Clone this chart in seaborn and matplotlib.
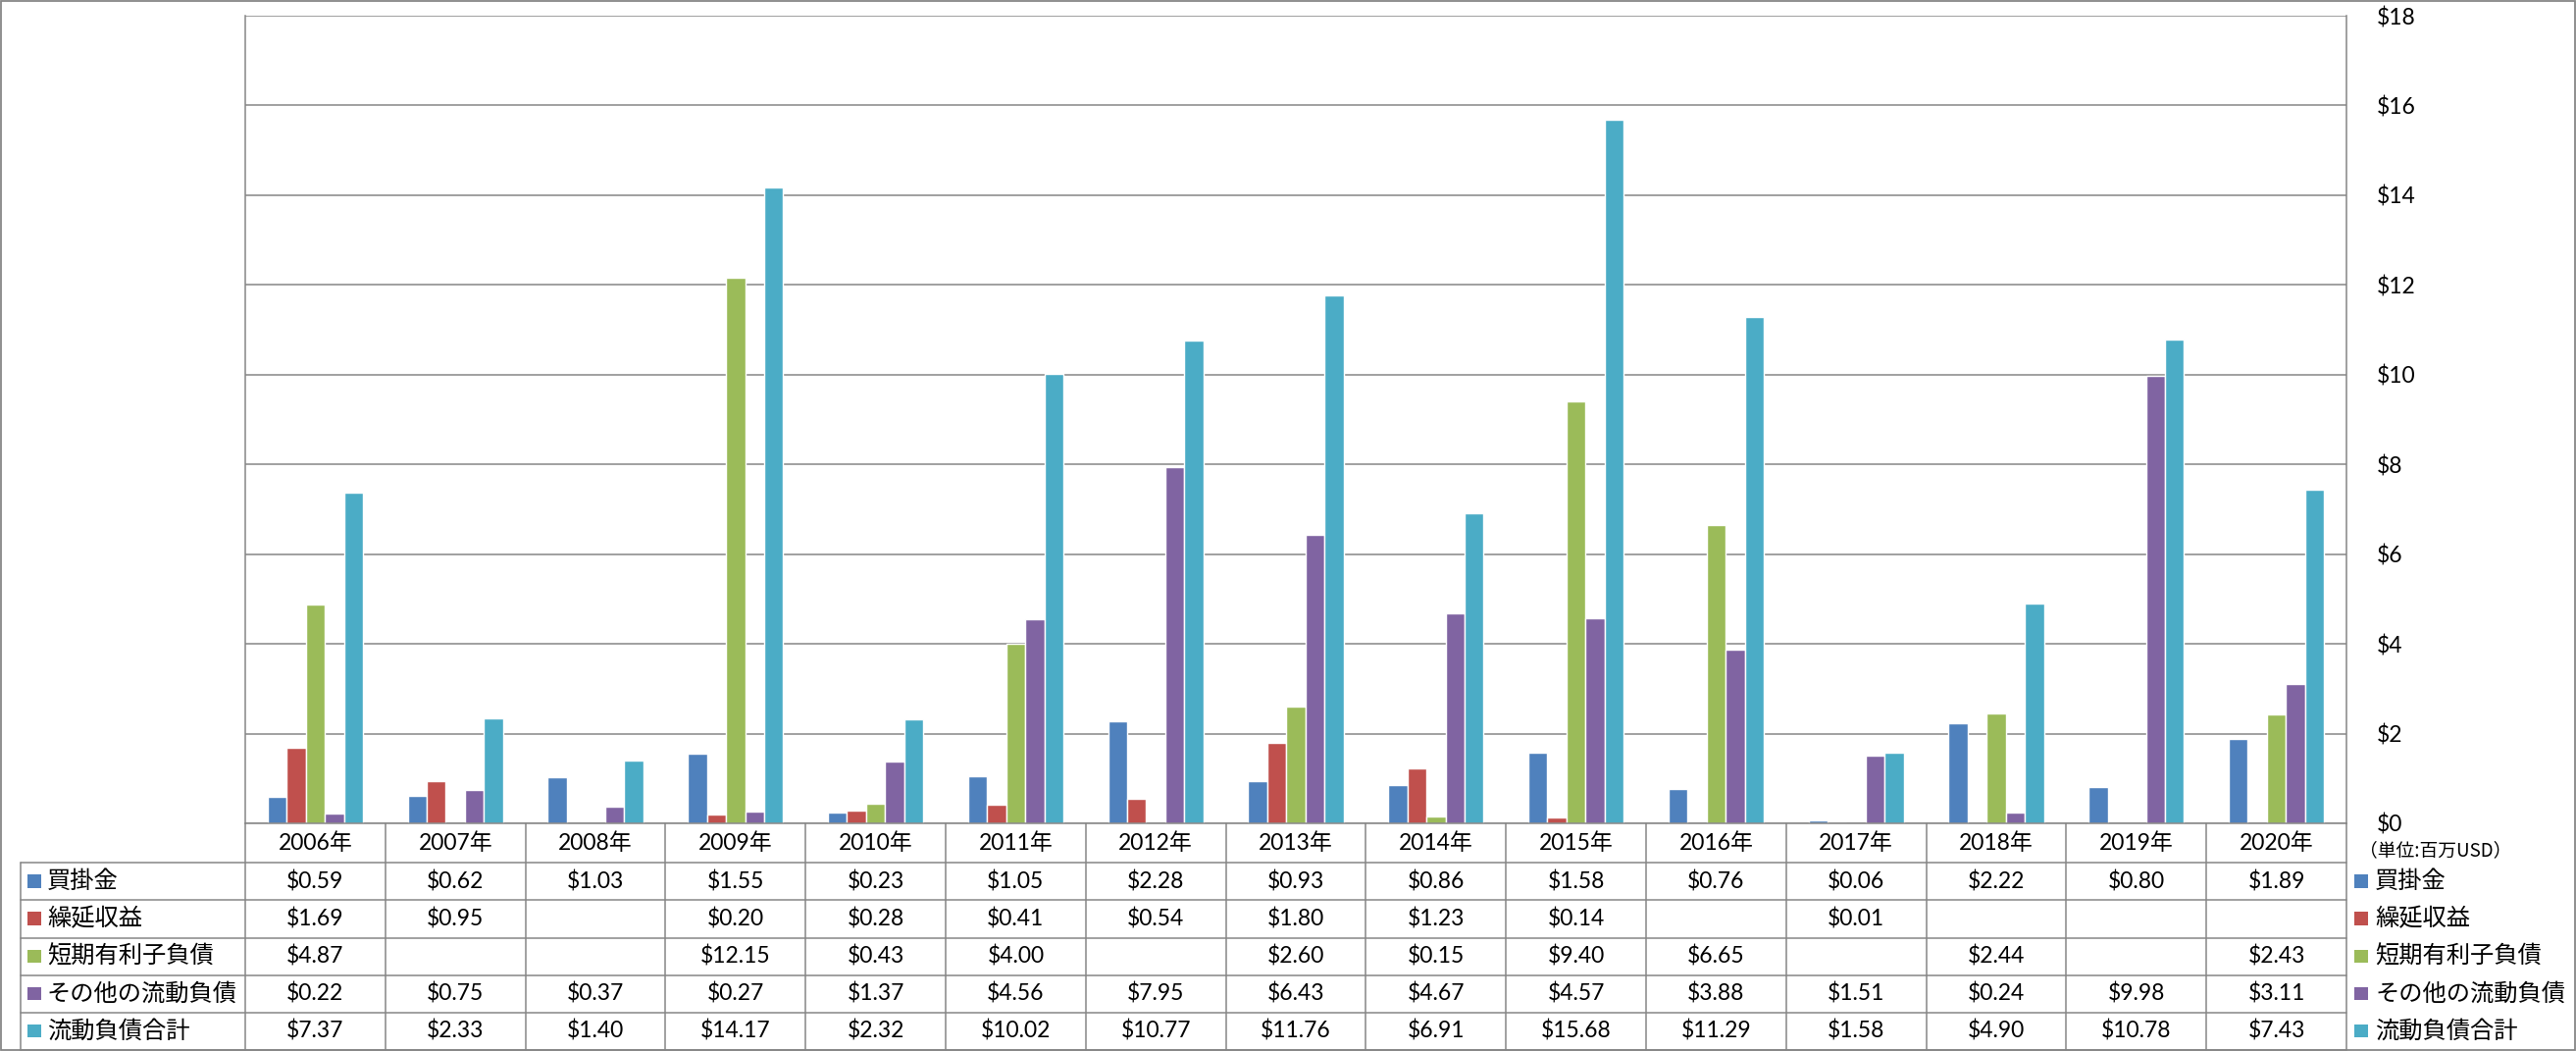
import numpy as np
import pandas as pd
import matplotlib
matplotlib.use("Agg")
import matplotlib.pyplot as plt
import seaborn as sns
from matplotlib.transforms import blended_transform_factory
from matplotlib.lines import Line2D
from matplotlib.patches import Rectangle

# ---------------- data ----------------
years = ["2006年", "2007年", "2008年", "2009年", "2010年", "2011年", "2012年", "2013年",
         "2014年", "2015年", "2016年", "2017年", "2018年", "2019年", "2020年"]
series_names = ["買掛金", "繰延収益", "短期有利子負債", "その他の流動負債", "流動負債合計"]
accounts_payable = [0.59, 0.62, 1.03, 1.55, 0.23, 1.05, 2.28, 0.93, 0.86, 1.58, 0.76, 0.06, 2.22, 0.80, 1.89]
deferred_revenue = [1.69, 0.95, None, 0.20, 0.28, 0.41, 0.54, 1.80, 1.23, 0.14, None, 0.01, None, None, None]
short_term_debt = [4.87, None, None, 12.15, 0.43, 4.00, None, 2.60, 0.15, 9.40, 6.65, None, 2.44, None, 2.43]
other_current = [0.22, 0.75, 0.37, 0.27, 1.37, 4.56, 7.95, 6.43, 4.67, 4.57, 3.88, 1.51, 0.24, 9.98, 3.11]
total_current = [7.37, 2.33, 1.40, 14.17, 2.32, 10.02, 10.77, 11.76, 6.91, 15.68, 11.29, 1.58, 4.90, 10.78, 7.43]
y_ticks = [0, 2, 4, 6, 8, 10, 12, 14, 16, 18]
unit_label = "（単位:百万USD）"
colors = ["#4F81BD", "#C0504D", "#9BBB59", "#8064A2", "#4BACC6"]

all_series = [accounts_payable, deferred_revenue, short_term_debt, other_current, total_current]
rows = []
for name, vals in zip(series_names, all_series):
    for yr, v in zip(years, vals):
        rows.append({"year": yr, "series": name, "value": np.nan if v is None else v})
df = pd.DataFrame(rows)

# ---------------- style ----------------
sns.set_theme(style="white")
plt.rcParams["font.family"] = ["Lato", "Noto Sans CJK JP"]

W, H, DPI = 2626, 1071, 100
fig = plt.figure(figsize=(W / DPI, H / DPI), dpi=DPI)
fig.patch.set_facecolor("white")

px_left, px_right, px_top, px_zero = 250, 2392, 16, 839
ax = fig.add_axes([px_left / W, 1 - px_zero / H, (px_right - px_left) / W, (px_zero - px_top) / H])

sns.barplot(data=df, x="year", y="value", hue="series", hue_order=series_names,
            palette=colors, width=0.68, saturation=1, legend=False, ax=ax, errorbar=None)

grid_c = "#868686"
ax.set_xlim(-0.5, len(years) - 0.5)
ax.set_ylim(0, 18)
ax.set_yticks(y_ticks)
ax.set_yticklabels([f"${t}" for t in y_ticks])
ax.yaxis.tick_right()
ax.tick_params(axis="y", length=0, pad=22, labelsize=16.5, labelcolor="black")
ax.set_xticks([])
ax.set_xlabel("")
ax.set_ylabel("")
ax.grid(axis="y", color=grid_c, lw=1.1)
ax.set_axisbelow(True)
for s in ["left", "right", "bottom"]:
    ax.spines[s].set_color(grid_c)
    ax.spines[s].set_linewidth(1.1)
ax.spines["top"].set_visible(False)
for lab in ax.get_yticklabels():
    lab.set_horizontalalignment("left")

# ---------------- data table ----------------
def fy(px):
    return 1 - px / H

def fx(px):
    return px / W

trans = blended_transform_factory(ax.transData, fig.transFigure)
row_lines = [839, 879, 917, 955.5, 993.5, 1031.5, 1069.5]
lab_left = 21

# vertical cell borders
for i in range(len(years) + 1):
    fig.add_artist(Line2D([i - 0.5, i - 0.5], [fy(row_lines[0]), fy(row_lines[-1])],
                          transform=trans, color=grid_c, lw=1.1))
# horizontal borders
for k, yl in enumerate(row_lines[1:]):
    fig.add_artist(Line2D([fx(lab_left), fx(px_right)], [fy(yl), fy(yl)],
                          transform=fig.transFigure, color=grid_c, lw=1.1))
fig.add_artist(Line2D([fx(lab_left), fx(lab_left)], [fy(row_lines[1]), fy(row_lines[-1])],
                      transform=fig.transFigure, color=grid_c, lw=1.1))

# header
for i, yr in enumerate(years):
    fig.text(i, fy((row_lines[0] + row_lines[1]) / 2), yr, transform=trans,
             ha="center", va="center", fontsize=16.5, color="black")

# values and row labels
for r, (name, vals) in enumerate(zip(series_names, all_series)):
    yc = fy((row_lines[r + 1] + row_lines[r + 2]) / 2)
    for i, v in enumerate(vals):
        if v is not None:
            fig.text(i, yc, f"${v:.2f}", transform=trans, ha="center", va="center",
                     fontsize=16.5, color="black")
    # left label with colour key
    fig.add_artist(Rectangle((fx(28), yc - 6.5 / H), 13.5 / W, 13.5 / H,
                             transform=fig.transFigure, facecolor=colors[r], edgecolor="none"))
    fig.text(fx(48), yc, name, transform=fig.transFigure, ha="left", va="center",
             fontsize=17.5, color="black", family="Noto Sans CJK JP")
    # right legend
    fig.add_artist(Rectangle((fx(2400), yc - 6.5 / H), 13.5 / W, 13.5 / H,
                             transform=fig.transFigure, facecolor=colors[r], edgecolor="none"))
    fig.text(fx(2421), yc, name, transform=fig.transFigure, ha="left", va="center",
             fontsize=17.5, color="black", family="Noto Sans CJK JP")

fig.text(fx(2405), fy(867), unit_label, transform=fig.transFigure, ha="left", va="center",
         fontsize=13.5, color="black", family="Noto Sans CJK JP")

# outer border
fig.add_artist(Rectangle((0.0005, 0.001), 0.999, 0.998, transform=fig.transFigure,
                         fill=False, edgecolor=grid_c, lw=1.3))

fig.savefig("out.png", dpi=DPI, facecolor="white")
